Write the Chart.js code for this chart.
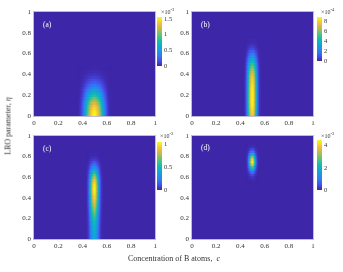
<!DOCTYPE html>
<html>
<head>
<meta charset="utf-8">
<script src="https://cdn.jsdelivr.net/npm/chart.js@4.4.0/dist/chart.umd.min.js"></script>
<style>
  body { margin: 0; background: #fff; }
  #wrap { position: relative; width: 343px; height: 272px; overflow: hidden; font-family: 'Liberation Serif', 'Times New Roman', serif; color: #333; }
  canvas { position: absolute; }
  .txt { position: absolute; white-space: nowrap; }
  .plab { color: #fff; font-size: 7.5px; }
  .exp { font-size: 6px; }
  .exp sup { font-size: 4.5px; vertical-align: 3px; }
</style>
</head>
<body>
<div id="wrap">
  <canvas id="ha" width="160" height="128" style="left:0;top:0"></canvas>
  <canvas id="hb" width="160" height="128" style="left:158px;top:0"></canvas>
  <canvas id="hc" width="160" height="128" style="left:0;top:124px"></canvas>
  <canvas id="hd" width="160" height="128" style="left:158px;top:124px"></canvas>
  <canvas id="ca" width="25" height="62" style="left:155px;top:10px"></canvas>
  <canvas id="cb" width="28" height="57" style="left:315px;top:10px"></canvas>
  <canvas id="cc" width="25" height="61" style="left:155px;top:135px"></canvas>
  <canvas id="cd" width="28" height="63" style="left:315px;top:133px"></canvas>

  <div class="txt plab" style="left:43px;top:20px">(a)</div>
  <div class="txt plab" style="left:201px;top:20px">(b)</div>
  <div class="txt plab" style="left:43px;top:144px">(c)</div>
  <div class="txt plab" style="left:201px;top:143px">(d)</div>

  <div class="txt exp" style="left:161px;top:7px">×10<sup>-3</sup></div>
  <div class="txt exp" style="left:321px;top:7px">×10<sup>-4</sup></div>
  <div class="txt exp" style="left:160px;top:131px">×10<sup>-3</sup></div>
  <div class="txt exp" style="left:321px;top:131px">×10<sup>-3</sup></div>

  <div class="txt" style="left:8px;top:126px;font-size:8px;transform:translate(-50%,-50%) rotate(-90deg)">LRO parameter, <i>η</i></div>
  <div class="txt" style="left:174px;top:258px;font-size:8px;transform:translate(-50%,-50%)">Concentration of B atoms,&nbsp; <i>c</i></div>
</div>
<script>
// grid steps of the sampled profiles
const etaStep = 0.025;
const cStep = 0.01;
const axisTicks = [0, 0.2, 0.4, 0.6, 0.8, 1];

// (a) x10^-3 : profile along eta at c = 0.5 (from eta = 0), and across c (by |c-0.5|)
const aEtaStart = 0;
const aEta = [1.56, 1.55, 1.52, 1.46, 1.38, 1.27, 1.14, 1.0, 0.85, 0.7, 0.56, 0.43, 0.32, 0.23, 0.16, 0.1, 0.06, 0.035, 0.018, 0.008];
const aC = [1, 0.98, 0.94, 0.87, 0.78, 0.67, 0.55, 0.43, 0.31, 0.21, 0.13, 0.07, 0.03, 0.01];
const aMax = 1.56;
const aTicks = [0, 0.5, 1, 1.5];

// (b) x10^-4
const bEtaStart = 0;
const bEta = [7.6, 8.0, 8.3, 8.5, 8.65, 8.75, 8.8, 8.8, 8.8, 8.75, 8.7, 8.6, 8.45, 8.3, 8.1, 7.85, 7.5, 7.05, 6.5, 5.85, 5.1, 4.3, 3.5, 2.7, 1.95, 1.3, 0.8, 0.45, 0.2, 0.08];
const bC = [1, 0.93, 0.78, 0.55, 0.32, 0.13, 0.03];
const bMax = 8.8;
const bTicks = [0, 2, 4, 6, 8];

// (c) x10^-3
const cEtaStart = 0;
const cEta = [0.40, 0.41, 0.42, 0.43, 0.45, 0.47, 0.5, 0.53, 0.57, 0.61, 0.66, 0.71, 0.76, 0.81, 0.86, 0.91, 0.95, 0.98, 1.01, 1.03, 1.03, 1.01, 0.97, 0.9, 0.8, 0.68, 0.55, 0.42, 0.3, 0.2, 0.12, 0.06, 0.025, 0.01];
const cC = [1, 0.92, 0.75, 0.52, 0.29, 0.12, 0.03];
const cMax = 1.04;
const cTicks = [0, 0.5, 1];

// (d) x10^-3
const dEtaStart = 0.55;
const dEta = [0, 0.05, 0.15, 0.4, 0.9, 1.7, 2.8, 3.9, 4.5, 4.2, 3.2, 2.0, 1.0, 0.4, 0.12, 0.03];
const dC = [1, 0.85, 0.55, 0.25, 0.08, 0.01];
const dMax = 4.5;
const dTicks = [0, 2, 4];

const blobCentre = 0.5;

// parula-like colour stops
const parulaStops = [
  [0.00, 62, 38, 168], [0.10, 71, 76, 232], [0.20, 50, 120, 245], [0.30, 32, 148, 228],
  [0.40, 13, 171, 211], [0.50, 20, 186, 178], [0.60, 70, 196, 136], [0.70, 150, 191, 94],
  [0.80, 215, 186, 67], [0.875, 252, 190, 60], [0.95, 245, 230, 35], [1.00, 249, 251, 14]
];
function parula(t) {
  t = Math.max(0, Math.min(1, t));
  for (let i = 1; i < parulaStops.length; i++) {
    const p = parulaStops[i - 1], q = parulaStops[i];
    if (t <= q[0]) {
      const f = (t - p[0]) / (q[0] - p[0]);
      const r = Math.round(p[1] + f * (q[1] - p[1]));
      const g = Math.round(p[2] + f * (q[2] - p[2]));
      const b = Math.round(p[3] + f * (q[3] - p[3]));
      return `rgb(${r},${g},${b})`;
    }
  }
  return 'rgb(249,251,14)';
}

Chart.defaults.font.family = "'Liberation Serif', 'Times New Roman', serif";
Chart.defaults.color = '#333';

const tickText = v => String(+(+v).toFixed(2));

// build the cell table from the two read profiles
function heatCells(etaStart, etaVals, cVals) {
  const cells = [];
  etaVals.forEach((v, i) => {
    const eta = etaStart + i * etaStep;
    const lo = Math.max(0, eta - etaStep / 2), hi = Math.min(1, eta + etaStep / 2);
    for (let k = -(cVals.length - 1); k < cVals.length; k++) {
      cells.push({ x: +(blobCentre + k * cStep).toFixed(3), y: [lo, hi], v: v * cVals[Math.abs(k)] });
    }
  });
  return cells;
}

const boxPlugin = {
  id: 'box',
  beforeDatasetsDraw(chart) {
    const a = chart.chartArea, ctx = chart.ctx;
    ctx.save();
    ctx.fillStyle = parula(0);
    ctx.fillRect(a.left, a.top, a.right - a.left, a.bottom - a.top);
    ctx.restore();
  },
  afterDatasetsDraw(chart) {
    const a = chart.chartArea, ctx = chart.ctx;
    ctx.save();
    ctx.strokeStyle = '#bdbbd8';
    ctx.lineWidth = 1;
    ctx.strokeRect(Math.round(a.left) - 0.5, Math.round(a.top) - 0.5, Math.round(a.right - a.left) + 1, Math.round(a.bottom - a.top) + 1);
    ctx.restore();
  }
};

function heatmap(id, etaStart, etaVals, cVals, vmax, padRight, xHeight) {
  new Chart(document.getElementById(id), {
    type: 'bar',
    data: {
      datasets: [{
        data: heatCells(etaStart, etaVals, cVals),
        backgroundColor: ctx => parula(ctx.raw ? ctx.raw.v / vmax : 0),
        borderWidth: 0,
        barPercentage: 1,
        categoryPercentage: 1
      }]
    },
    options: {
      responsive: false,
      animation: false,
      events: [],
      layout: { padding: { top: 12, right: padRight, left: 0, bottom: 0 } },
      plugins: { legend: { display: false }, tooltip: { enabled: false } },
      scales: {
        x: {
          type: 'linear', min: 0, max: 1, offset: false,
          grid: { display: false, drawTicks: false, offset: false },
          border: { display: false },
          ticks: { padding: 3, font: { size: 7 }, callback: tickText },
          afterBuildTicks: s => { s.ticks = axisTicks.map(v => ({ value: v })); },
          afterFit: s => { s.height = xHeight; }
        },
        y: {
          type: 'linear', min: 0, max: 1,
          grid: { display: false, drawTicks: false },
          border: { display: false },
          ticks: { padding: 3, font: { size: 7 }, callback: tickText },
          afterBuildTicks: s => { s.ticks = axisTicks.map(v => ({ value: v })); },
          afterFit: s => { s.width = 34; }
        }
      }
    },
    plugins: [boxPlugin]
  });
}

function colorbar(id, vmax, ticks, axisWidth) {
  new Chart(document.getElementById(id), {
    type: 'bar',
    data: {
      labels: [''],
      datasets: [{
        data: [[0, vmax]],
        borderWidth: 0,
        barPercentage: 1,
        categoryPercentage: 1,
        backgroundColor: ctx => {
          const a = ctx.chart.chartArea;
          if (!a) return parula(0.5);
          const g = ctx.chart.ctx.createLinearGradient(0, a.bottom, 0, a.top);
          parulaStops.forEach(s => g.addColorStop(s[0], `rgb(${s[1]},${s[2]},${s[3]})`));
          return g;
        }
      }]
    },
    options: {
      responsive: false,
      animation: false,
      events: [],
      layout: { padding: { top: 7, bottom: 5, left: 2, right: 0 } },
      plugins: { legend: { display: false }, tooltip: { enabled: false } },
      scales: {
        x: { display: false },
        y: {
          position: 'right', min: 0, max: vmax,
          grid: { display: false, drawTicks: false },
          border: { display: false },
          ticks: { padding: 2, font: { size: 6.5 }, callback: tickText },
          afterBuildTicks: s => { s.ticks = ticks.map(v => ({ value: v })); },
          afterFit: s => { s.width = axisWidth; }
        }
      }
    }
  });
}

heatmap('ha', aEtaStart, aEta, aC, aMax, 4, 12);
heatmap('hb', bEtaStart, bEta, bC, bMax, 5, 12);
heatmap('hc', cEtaStart, cEta, cC, cMax, 4, 13);
heatmap('hd', dEtaStart, dEta, dC, dMax, 5, 13);

colorbar('ca', aMax, aTicks, 18);
colorbar('cb', bMax, bTicks, 21);
colorbar('cc', cMax, cTicks, 18);
colorbar('cd', dMax, dTicks, 21);
</script>
</body>
</html>
